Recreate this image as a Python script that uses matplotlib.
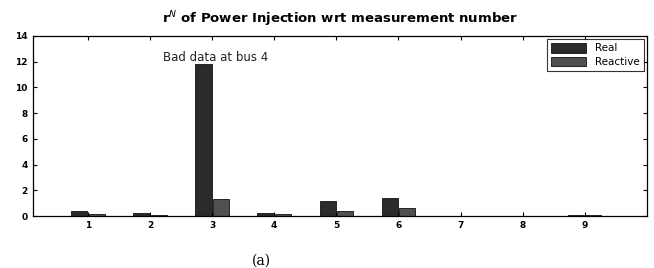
import matplotlib
matplotlib.use('Agg')
import matplotlib.pyplot as plt
import numpy as np

# measurement numbers and normalized residuals
meas = [1, 2, 3, 4, 5, 6, 7, 8, 9]
real = [0.4, 0.25, 11.8, 0.25, 1.2, 1.4, 0.0, 0.0, 0.1]
reactive = [0.15, 0.05, 1.3, 0.15, 0.4, 0.65, 0.0, 0.0, 0.05]
y_ticks = [0, 2, 4, 6, 8, 10, 12, 14]

fig = plt.figure(figsize=(6.54, 2.68), dpi=100)
ax = fig.add_axes([0.050, 0.194, 0.939, 0.672])

x = np.array(meas)
w = 0.26
ax.bar(x - 0.14, real, width=w, color='#2b2b2b', edgecolor='#111111',
       linewidth=0.6, label='Real')
ax.bar(x + 0.14, reactive, width=w, color='#505050', edgecolor='#111111',
       linewidth=0.6, label='Reactive')

ax.set_xlim(0.11, 10.0)
ax.set_ylim(0, 14)
ax.set_xticks(meas)
ax.set_yticks(y_ticks)
ax.tick_params(direction='in', top=True, right=True, labelsize=6.5,
               length=3, width=0.8)
for lab in ax.get_xticklabels() + ax.get_yticklabels():
    lab.set_fontweight('bold')
for s in ax.spines.values():
    s.set_linewidth(0.9)

ax.text(3.05, 12.3, 'Bad data at bus 4', fontsize=8.5, ha='center',
        va='center', color='#222222')
ax.set_title(r'r$^N$ of Power Injection wrt measurement number',
             fontsize=9.5, fontweight='bold', pad=9)

leg = ax.legend(loc='upper right', fontsize=7.5, frameon=True, fancybox=False,
                edgecolor='black', handlelength=3.4, handleheight=1.0,
                borderaxespad=0.3, labelspacing=0.3)
leg.get_frame().set_linewidth(0.8)

fig.text(0.4, 0.003, '(a)', fontsize=10, ha='center', va='bottom',
         family='DejaVu Serif')

fig.savefig('out.png', dpi=100)
